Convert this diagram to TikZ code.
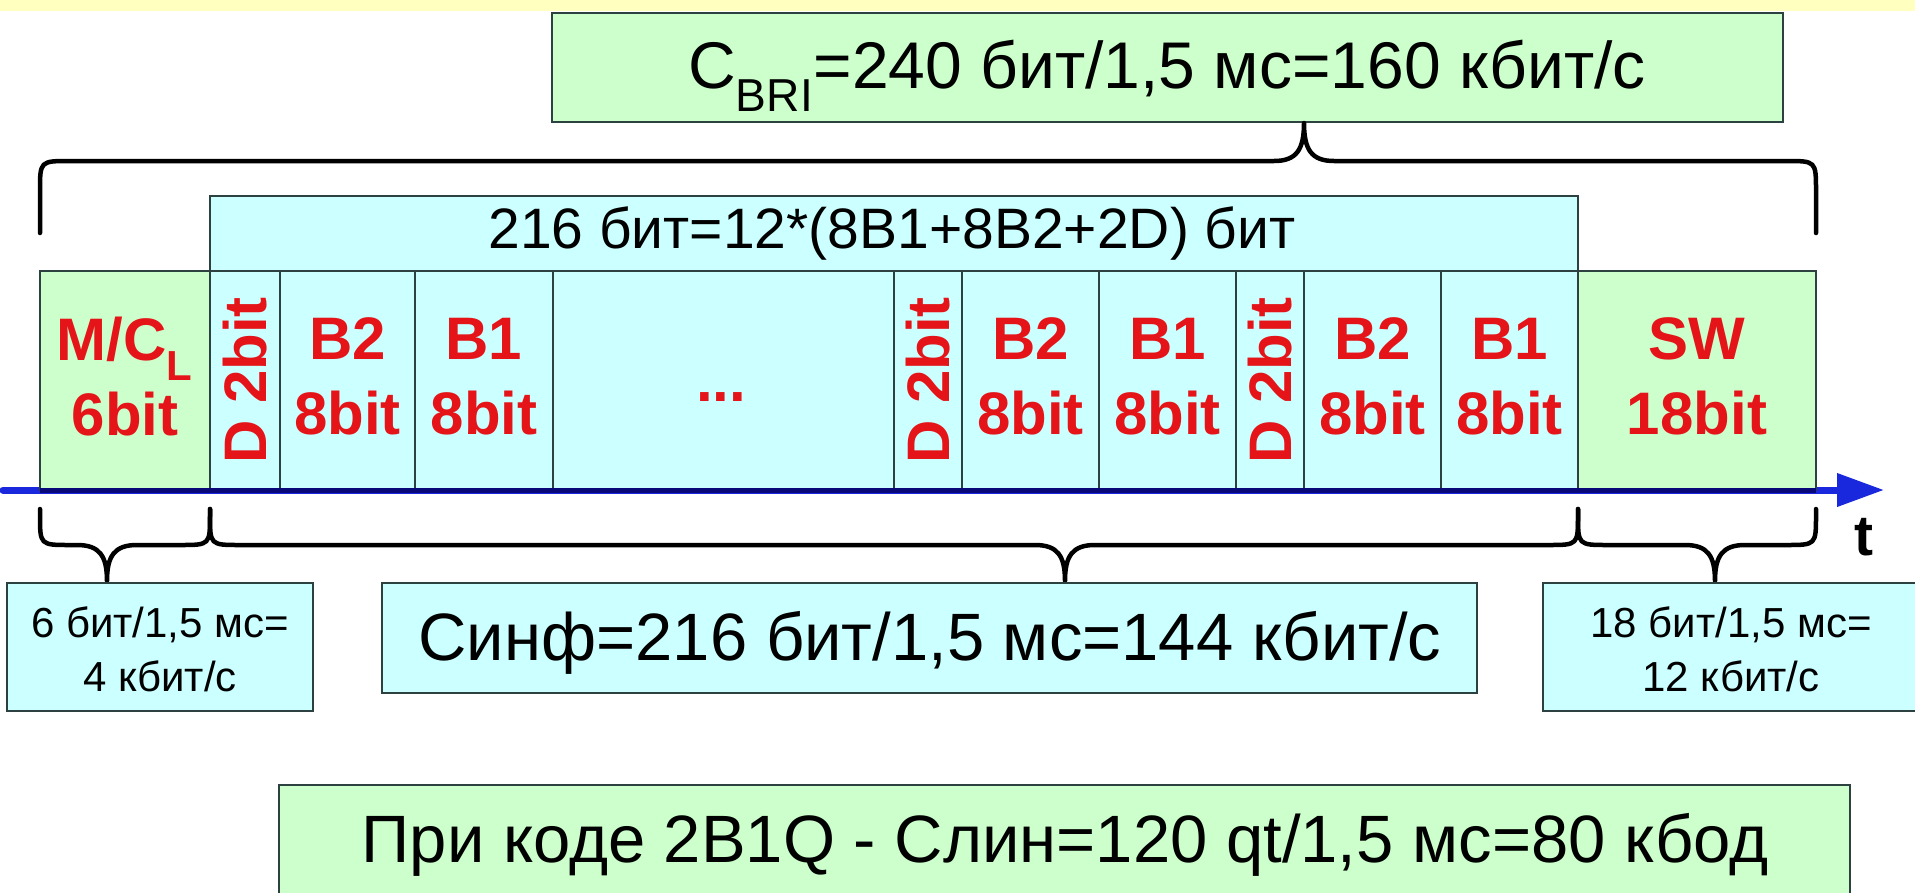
\documentclass[tikz,border=0pt]{standalone}
\usepackage{fontspec}
\setmainfont{Liberation Sans}
\usetikzlibrary{arrows.meta}
\definecolor{boxgreen}{RGB}{204,255,204}
\definecolor{boxcyan}{RGB}{204,255,255}
\definecolor{bandyellow}{RGB}{255,255,192}
\definecolor{edgegray}{RGB}{45,65,65}
\definecolor{cellred}{RGB}{228,20,24}
\definecolor{axisblue}{RGB}{25,40,220}
\definecolor{axisnavy}{RGB}{8,8,120}

% #1 xL, #2 xTip, #3 xR, #4 yEnd, #5 yCorner, #6 yHoriz, #7 yTip, #8 radius
\newcommand\bracedraw[8]{%
  \draw[bracestyle] (#1,#4) -- (#1,#5) .. controls (#1,#6) .. ({#1+#8},#6)
    -- ({#2-#8},#6) .. controls ({#2-0.25*#8},#6) and (#2,{#6+0.3*(#7-#6)}) .. (#2,#7)
    .. controls (#2,{#6+0.3*(#7-#6)}) and ({#2+0.25*#8},#6) .. ({#2+#8},#6)
    -- ({#3-#8},#6) .. controls (#3,#6) .. (#3,#5) -- (#3,#4);}

% #1 name, #2 x, #3 width, #4 fill
\newcommand\bitcell[4]{%
  \node[box, fill=#4, minimum width=#3pt, minimum height=219pt] (#1) at (#2,271) {};}

\begin{document}
\begin{tikzpicture}[x=1pt,y=-1pt,
  box/.style={draw=edgegray, line width=1.5pt, anchor=north west, inner sep=0pt, outer sep=0pt},
  bitlbl/.style={text=cellred, font=\fontsize{60}{75}\selectfont\bfseries, align=center, inner sep=0pt},
  bigtxt/.style={font=\fontsize{66}{79}\selectfont, inner sep=0pt, anchor=base},
  smalltxt/.style={font=\fontsize{42}{54}\selectfont, align=center, inner sep=0pt},
  bracestyle/.style={draw=black, line width=4.5pt, line cap=round, line join=round},
  lowbrace/.style={bracestyle, line width=4pt},
]
\useasboundingbox (0,0) rectangle (1915,892);
\fill[white] (0,0) rectangle (1915,892);
\fill[bandyellow] (0,0) rectangle (1915,11);

% top box
\node[box, fill=boxgreen, minimum width=1231pt, minimum height=109pt] (top) at (552,13) {};
\node[bigtxt] (toptxt) at (1167,88) {C\textsubscript{BRI}=240 бит/1,5 мс=160 кбит/с};

% big brace
\coordinate (tipTop) at (1304,123);
\bracedraw{40}{1304}{1816}{233}{191}{161}{123}{30}

% header box
\node[box, fill=boxcyan, minimum width=1368pt, minimum height=75pt] (hdr) at (210,196) {};
\node[bigtxt, font=\fontsize{57}{68}\selectfont] (hdrtxt) at (892,248) {216 бит=12*(8B1+8B2+2D) бит};

% axis
\coordinate (axstart) at (3,490);
\coordinate (axend) at (1884,490);
\draw[axisblue, line width=7pt, line cap=round, -{Triangle[length=47pt,width=32pt]}] (axstart) -- (axend);

% cells
\bitcell{mc}{40}{170}{boxgreen}
\bitcell{d1}{210}{70}{boxcyan}
\bitcell{b2a}{280}{135}{boxcyan}
\bitcell{b1a}{415}{138}{boxcyan}
\bitcell{dots}{553}{341}{boxcyan}
\bitcell{d2}{894}{68}{boxcyan}
\bitcell{b2b}{962}{137}{boxcyan}
\bitcell{b1b}{1099}{137}{boxcyan}
\bitcell{d3}{1236}{68}{boxcyan}
\bitcell{b2c}{1304}{137}{boxcyan}
\bitcell{b1c}{1441}{137}{boxcyan}
\bitcell{sw}{1578}{238}{boxgreen}

\draw[axisnavy, line width=5pt] (mc.south west) -- (sw.south east);

\node[bitlbl] at ([yshift=4pt]mc.center) {M/C\textsubscript{L}\\6bit};
\node[bitlbl, rotate=90] at (d1.center) {D 2bit};
\node[bitlbl] at ([yshift=4pt]b2a.center) {B2\\8bit};
\node[bitlbl] at ([yshift=4pt]b1a.center) {B1\\8bit};
\node[bitlbl] (dotlbl) at (721,397) {...};
\node[bitlbl, rotate=90] at (d2.center) {D 2bit};
\node[bitlbl] at ([yshift=4pt]b2b.center) {B2\\8bit};
\node[bitlbl] at ([yshift=4pt]b1b.center) {B1\\8bit};
\node[bitlbl, rotate=90] at (d3.center) {D 2bit};
\node[bitlbl] at ([yshift=4pt]b2c.center) {B2\\8bit};
\node[bitlbl] at ([yshift=4pt]b1c.center) {B1\\8bit};
\node[bitlbl] at ([yshift=4pt]sw.center) {SW\\18bit};

\node[font=\fontsize{57}{68}\selectfont\bfseries, inner sep=0pt, anchor=base] (tlbl) at (1864,555) {t};

% lower braces
\bracedraw{40}{107}{210}{509}{515}{545}{581}{30}
\bracedraw{210}{1065}{1578}{509}{515}{545}{581}{30}
\bracedraw{1578}{1715}{1816}{509}{515}{545}{581}{30}

% lower boxes
\node[box, fill=boxcyan, minimum width=306pt, minimum height=128pt] (lbox) at (7,583) {};
\node[smalltxt] at ([yshift=-2pt]lbox.center) {6 бит/1,5 мс=\\4 кбит/с};

\node[box, fill=boxcyan, minimum width=1095pt, minimum height=110pt] (mbox) at (382,583) {};
\node[bigtxt, font=\fontsize{67}{80}\selectfont] at (930,660) {Синф=216 бит/1,5 мс=144 кбит/с};

\node[box, fill=boxcyan, minimum width=380pt, minimum height=128pt] (rbox) at (1543,583) {};
\node[smalltxt] at (1731,649) {18 бит/1,5 мс=\\12 кбит/с};

\node[box, fill=boxgreen, minimum width=1571pt, minimum height=120pt] (bbox) at (279,785) {};
\node[bigtxt, font=\fontsize{67}{80}\selectfont] at (1065,862) {При коде 2B1Q - Слин=120 qt/1,5 мс=80 кбод};
\end{tikzpicture}
\end{document}
